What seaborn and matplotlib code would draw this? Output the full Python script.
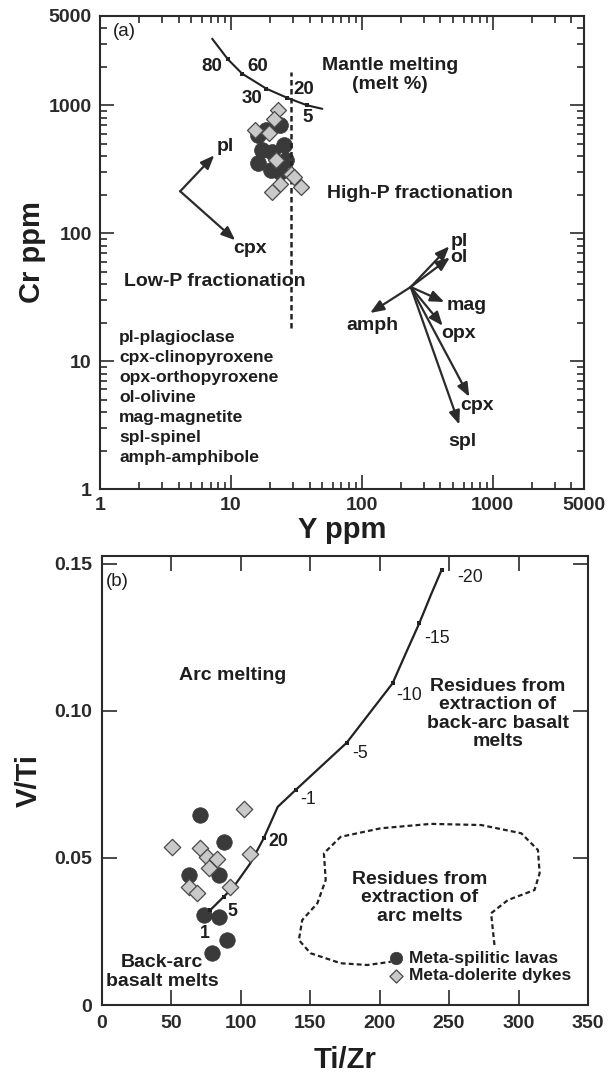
import matplotlib
matplotlib.use("Agg")
import matplotlib.pyplot as plt
import seaborn as sns
import numpy as np
import pandas as pd

# ---------------- Panel (a) data : Cr vs Y (log-log) ----------------
lava_a_Y = [16.2, 17.4, 16.2, 20.1, 23.9, 25.7, 23.9, 20.8, 26.6, 18.7]
lava_a_Cr = [583, 445, 352, 311, 300, 487, 698, 430, 372, 638]
dyke_a_Y = [22.8, 21.3, 15.4, 19.5, 22.3, 28.6, 30.3, 34.1, 23.9, 20.7]
dyke_a_Cr = [914, 778, 646, 608, 377, 289, 274, 228, 244, 210]

melt_labels = ["80", "60", "30", "20", "5"]
melt_Y = [9.5, 12.2, 18.7, 27.0, 38.4]
melt_Cr = [2290, 1770, 1350, 1145, 1000]
mantle_curve_Y = [7.2, 9.5, 12.2, 18.7, 27.0, 38.4, 50]
mantle_curve_Cr = [3320, 2290, 1770, 1350, 1145, 1000, 940]

divide_Y = [28.6, 28.6]
divide_Cr = [18, 1820]

lowp_origin = (4.10, 213)
lowp_names = ["pl", "cpx"]
lowp_tip_Y = [7.47, 10.8]
lowp_tip_Cr = [407, 88.2]

highp_origin = (237, 38)
highp_names = ["pl", "ol", "mag", "opx", "cpx", "spl", "amph"]
highp_tip_Y = [467, 472, 428, 416, 664, 557, 116]
highp_tip_Cr = [79, 64.6, 29, 18.9, 5.26, 3.19, 23.8]

mineral_key = ["pl-plagioclase", "cpx-clinopyroxene", "opx-orthopyroxene",
               "ol-olivine", "mag-magnetite", "spl-spinel", "amph-amphibole"]

a_ticks = [1, 10, 100, 1000, 5000]
a_ticklabels = ["1", "10", "100", "1000", "5000"]

# ---------------- Panel (b) data : V/Ti vs Ti/Zr ----------------
lava_b_TiZr = [70.6, 87.9, 63.3, 84.3, 73.4, 84.3, 90.3, 79.5]
lava_b_VTi = [0.0646, 0.0555, 0.0442, 0.0442, 0.0306, 0.0300, 0.0221, 0.0176]
dyke_b_TiZr = [102.8, 50.6, 71.1, 75.9, 83.1, 77.1, 106.6, 62.6, 68.7, 92.2]
dyke_b_VTi = [0.0666, 0.0538, 0.0533, 0.0503, 0.0496, 0.0465, 0.0514, 0.0402, 0.0380, 0.0400]

curve_b_TiZr = [78.3, 87.9, 95.1, 107.1, 116.7, 126.8, 139.6, 176.4, 209.4, 219.0, 228.6, 237.0, 244.7]
curve_b_VTi = [0.0323, 0.0368, 0.0402, 0.0482, 0.0567, 0.0674, 0.0731, 0.0892, 0.1094, 0.1197, 0.1298, 0.1395, 0.148]
curve_tick_labels = ["1", "5", "20", "-1", "-5", "-10", "-15", "-20"]
curve_tick_TiZr = [78.3, 87.9, 116.7, 139.6, 176.4, 209.4, 228.6, 244.7]
curve_tick_VTi = [0.0323, 0.0368, 0.0567, 0.0731, 0.0892, 0.1094, 0.1298, 0.148]

contour_TiZr = [282.7, 280.3, 292.4, 311.5, 315.2, 314.0, 302.0, 273.2, 237.0, 200.9,
                172.1, 160.0, 161.3, 155.3, 144.4, 142.0, 150.4, 172.1, 191.3, 208.1]
contour_VTi = [0.0204, 0.0312, 0.0357, 0.0391, 0.0448, 0.0527, 0.0584, 0.0612, 0.0616, 0.0601,
               0.0572, 0.0516, 0.0425, 0.0346, 0.0289, 0.0221, 0.0176, 0.0142, 0.0136, 0.0147]

b_xticks = [0, 50, 100, 150, 200, 250, 300, 350]
b_yticks = [0, 0.05, 0.10, 0.15]
b_yticklabels = ["0", "0.05", "0.10", "0.15"]

series_names = ["Meta-spilitic lavas", "Meta-dolerite dykes"]

# ---------------- style ----------------
sns.set_style("ticks")
plt.rcParams["font.family"] = ["Liberation Sans", "DejaVu Sans"]
INK = "#1e1e1e"
DARK = "#3a3a3a"
LIGHT = "#c9c9c9"
plt.rcParams["text.color"] = INK
plt.rcParams["axes.edgecolor"] = "#2a2a2a"
plt.rcParams["axes.labelcolor"] = INK
plt.rcParams["xtick.color"] = "#2a2a2a"
plt.rcParams["ytick.color"] = "#2a2a2a"

W, H = 610, 1076
fig = plt.figure(figsize=(W / 100, H / 100), dpi=100)

A_BOX = (100, 584, 16, 489)
B_BOX = (101.5, 588, 556, 1005)


def add_axes(box):
    l, r, t, b = box
    return fig.add_axes([l / W, 1 - b / H, (r - l) / W, (b - t) / H])


def fr(box, x, y):
    l, r, t, b = box
    return ((x - l) / (r - l), (b - y) / (b - t))


# ======================= Panel (a) =======================
ax = add_axes(A_BOX)
ax.set_xscale("log")
ax.set_yscale("log")
ax.set_xlim(1, 5000)
ax.set_ylim(1, 5000)

sns.lineplot(x=mantle_curve_Y, y=mantle_curve_Cr, sort=False, estimator=None,
             color="#222", lw=1.5, ax=ax)
sns.scatterplot(x=melt_Y, y=melt_Cr, marker="s", s=10, color="#222",
                edgecolor="#222", linewidth=0, ax=ax, zorder=4)
sns.lineplot(x=divide_Y, y=divide_Cr, sort=False, estimator=None, color="#222",
             lw=1.8, ax=ax, zorder=5)
ax.lines[-1].set_linestyle((0, (2.2, 1.4)))

sns.scatterplot(x=lava_a_Y, y=lava_a_Cr, marker="o", s=130, color=DARK,
                edgecolor=DARK, linewidth=0.5, ax=ax, zorder=3)
sns.scatterplot(x=dyke_a_Y, y=dyke_a_Cr, marker="D", s=66, color=LIGHT,
                edgecolor="#4a4a4a", linewidth=0.9, ax=ax, zorder=6)

arrow_kw = dict(arrowstyle="-|>,head_length=0.55,head_width=0.22", color="#2b2b2b",
                lw=1.6, shrinkA=0, shrinkB=0, mutation_scale=15)
for x, y in zip(lowp_tip_Y, lowp_tip_Cr):
    ax.annotate("", xy=(x, y), xytext=lowp_origin, arrowprops=arrow_kw)
for x, y in zip(highp_tip_Y, highp_tip_Cr):
    ax.annotate("", xy=(x, y), xytext=highp_origin, arrowprops=arrow_kw)

tkw = dict(transform=ax.transAxes, fontweight="bold", color=INK)
# melt % labels (reference pixel positions)
melt_lab_px = [(211.7, 66.7), (257.5, 66.7), (252.5, 98.3), (304, 89), (307.7, 117.3)]
for lab, (px, py) in zip(melt_labels, melt_lab_px):
    ax.text(*fr(A_BOX, px, py), lab, ha="center", va="center", fontsize=13.5, **tkw)

# low-P labels
lowp_lab_px = [(225, 146.7), (250, 248.3)]
for lab, (px, py) in zip(lowp_names, lowp_lab_px):
    ax.text(*fr(A_BOX, px, py), lab, ha="center", va="center", fontsize=14, **tkw)

# high-P labels (left-aligned)
highp_lab_px = [(450.7, 242), (450.7, 257.5), (446.7, 306), (441.7, 333.3),
                (460, 405.7), (448.3, 441.7), (346, 325)]
for lab, (px, py) in zip(highp_names, highp_lab_px):
    ax.text(*fr(A_BOX, px, py), lab, ha="left", va="center", fontsize=14, **tkw)

ax.text(*fr(A_BOX, 124, 32), "(a)", ha="center", va="center", fontsize=13.5,
        transform=ax.transAxes, color=INK)
ax.text(*fr(A_BOX, 390, 75), "Mantle melting\n(melt %)", ha="center", va="center",
        fontsize=14, linespacing=1.22, **tkw)
ax.text(*fr(A_BOX, 420, 193), "High-P fractionation", ha="center", va="center",
        fontsize=14, **tkw)
ax.text(*fr(A_BOX, 215, 282), "Low-P fractionation", ha="center", va="center",
        fontsize=14, **tkw)
for i, line in enumerate(mineral_key):
    ax.text(*fr(A_BOX, 119.3, 337.7 + 19.95 * i), line, ha="left", va="center",
            fontsize=12.6, **tkw)

ax.set_xticks(a_ticks)
ax.set_xticklabels(a_ticklabels)
ax.set_yticks(a_ticks)
ax.set_yticklabels(a_ticklabels)
ax.xaxis.set_minor_locator(matplotlib.ticker.LogLocator(base=10, subs=np.arange(2, 10), numticks=20))
ax.yaxis.set_minor_locator(matplotlib.ticker.LogLocator(base=10, subs=np.arange(2, 10), numticks=20))
ax.xaxis.set_minor_formatter(matplotlib.ticker.NullFormatter())
ax.yaxis.set_minor_formatter(matplotlib.ticker.NullFormatter())
ax.tick_params(which="both", direction="in", top=True, right=True, width=1.2)
ax.tick_params(which="major", length=10, labelsize=14, pad=6)
ax.tick_params(which="minor", length=5)
for lab in ax.get_xticklabels() + ax.get_yticklabels():
    lab.set_fontweight("bold")
for s in ax.spines.values():
    s.set_linewidth(1.5)
ax.set_xlabel("Y ppm", fontsize=21, fontweight="bold", labelpad=1)
ax.set_ylabel("Cr ppm", fontsize=21, fontweight="bold", labelpad=2)

# ======================= Panel (b) =======================
bx = add_axes(B_BOX)
bx.set_xlim(0, 350)
bx.set_ylim(0, 0.1527)

sns.lineplot(x=curve_b_TiZr, y=curve_b_VTi, sort=False, estimator=None,
             color="#222", lw=1.6, ax=bx)
sns.scatterplot(x=curve_tick_TiZr, y=curve_tick_VTi, marker="s", s=8, color="#222",
                linewidth=0, ax=bx, zorder=4)
sns.lineplot(x=contour_TiZr, y=contour_VTi, sort=False, estimator=None,
             color="#222", lw=1.6, ax=bx)
bx.lines[-1].set_linestyle((0, (2.2, 1.4)))

sns.scatterplot(x=lava_b_TiZr, y=lava_b_VTi, marker="o", s=125, color=DARK,
                edgecolor=DARK, linewidth=0.5, ax=bx, zorder=3, label=series_names[0])
sns.scatterplot(x=dyke_b_TiZr, y=dyke_b_VTi, marker="D", s=70, color=LIGHT,
                edgecolor="#4a4a4a", linewidth=0.9, ax=bx, zorder=5, label=series_names[1])

leg = bx.legend(loc="center left", bbox_to_anchor=fr(B_BOX, 389, 967), frameon=False,
                handlelength=0.8, handletextpad=0.35, borderpad=0, borderaxespad=0,
                labelspacing=0.12, markerscale=0.8,
                prop=dict(family=["Liberation Sans"], weight="bold", size=12.5))
for t in leg.get_texts():
    t.set_color(INK)

btk = dict(transform=bx.transAxes, color=INK)
curve_lab_px = [(205, 933), (232.7, 911.7), (278.3, 841.7), (308.3, 800), (360, 753.3),
                (409.3, 695), (436.7, 638.3), (470, 578)]
for lab, (px, py) in zip(curve_tick_labels, curve_lab_px):
    wt = "bold" if not lab.startswith("-") else "normal"
    bx.text(*fr(B_BOX, px, py), lab, ha="center", va="center", fontsize=12.8,
            fontweight=wt, **btk)

bx.text(*fr(B_BOX, 117, 582), "(b)", ha="center", va="center", fontsize=13.5, **btk)
bx.text(*fr(B_BOX, 233, 676), "Arc melting", ha="center", va="center", fontsize=14,
        fontweight="bold", **btk)
bx.text(*fr(B_BOX, 498, 714), "Residues from\nextraction of\nback-arc basalt\nmelts",
        ha="center", va="center", fontsize=14, fontweight="bold", linespacing=1.12, **btk)
bx.text(*fr(B_BOX, 420, 898), "Residues from\nextraction of\narc melts",
        ha="center", va="center", fontsize=14, fontweight="bold", linespacing=1.14, **btk)
bx.text(*fr(B_BOX, 162, 972), "Back-arc\nbasalt melts",
        ha="center", va="center", fontsize=14, fontweight="bold", linespacing=1.12, **btk)

bx.set_xticks(b_xticks)
bx.set_yticks(b_yticks)
bx.set_yticklabels(b_yticklabels)
bx.tick_params(which="major", direction="in", top=True, right=True, length=11,
               width=1.2, labelsize=14, pad=7)
for lab in bx.get_xticklabels() + bx.get_yticklabels():
    lab.set_fontweight("bold")
for s in bx.spines.values():
    s.set_linewidth(1.5)
bx.set_xlabel("Ti/Zr", fontsize=21, fontweight="bold", labelpad=10)
bx.set_ylabel("V/Ti", fontsize=21, fontweight="bold", labelpad=8)

fig.savefig("out.png", dpi=100, facecolor="white")
